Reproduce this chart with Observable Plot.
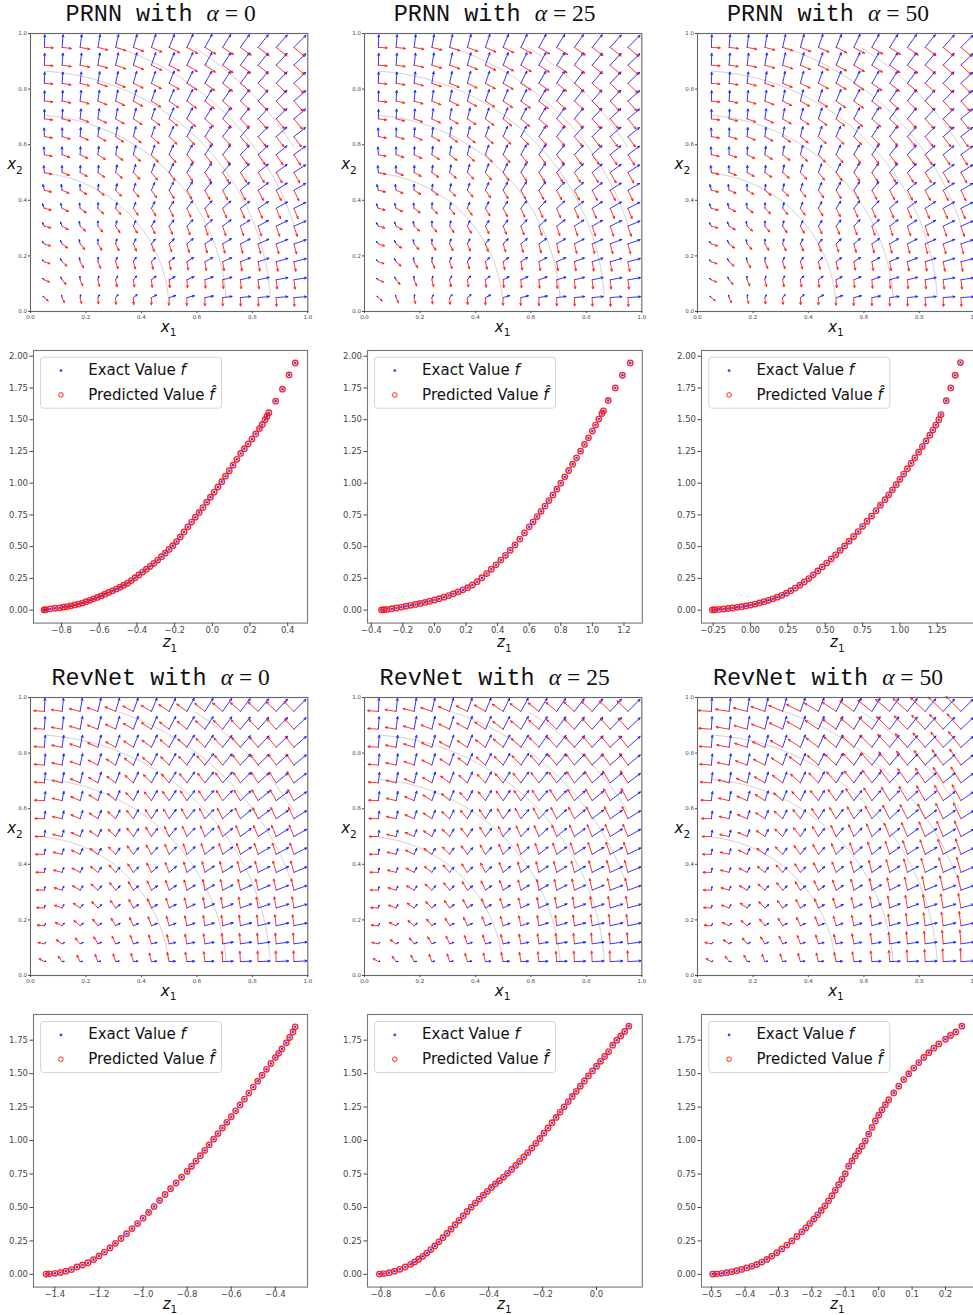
<!DOCTYPE html>
<html>
<head>
<meta charset="utf-8">
<script src="https://cdn.jsdelivr.net/npm/d3@7"></script>
<script src="https://cdn.jsdelivr.net/npm/@observablehq/plot@0.6"></script>
<style>
  body { margin:0; width:973px; height:1315px; overflow:hidden; position:relative; background:#fff; font-family:"DejaVu Sans", sans-serif; }
  .panel { position:absolute; }
  .panel svg { overflow:visible; max-width:none !important; display:block; }
</style>
</head>
<body>
<script>
// ---------------- data ----------------
const MODEL_NAMES = ["PRNN", "RevNet"];
const ALPHAS = ["0", "25", "50"];

// quiver grid (both axes) and contour levels of f = x1^2 + x2^2
const GRID = [0.05,0.114,0.179,0.243,0.307,0.371,0.436,0.5,0.564,0.629,0.693,0.757,0.821,0.886,0.95];
const CONTOUR_LEVELS = [0.25, 0.5, 0.75, 1.0, 1.25];
const UNIT_TICKS = [0, 0.2, 0.4, 0.6, 0.8, 1.0];

// arrow readings (turn in degrees, length in px) at radii R_KNOTS, on the axes and on the diagonal
const R_KNOTS = [0.07, 0.25, 0.5, 0.7, 0.95, 1.34];
const PRNN_B_TURN_AXIS = [90, 45, 8, 0, 0, 0];
const PRNN_B_TURN_DIAG = [90, 55, 25, 20, 10, 0];
const PRNN_B_LEN_AXIS  = [2, 2.5, 7, 9.5, 12.5, 12.5];
const PRNN_B_LEN_DIAG  = [2, 4, 6, 10, 13, 17];
const PRNN_R_TURN_AXIS = [5, 0, -7, -2, 0, 0];
const PRNN_R_TURN_DIAG = [5, -15, -10, -10, 0, 5];
const PRNN_R_LEN_AXIS  = [5, 6, 7.5, 8, 8.5, 8.5];
const PRNN_R_LEN_DIAG  = [5, 7, 8, 10, 12, 14];

const REV_B_TURN_AXIS = [-25, 0, -3, -3, 0, 0];
const REV_B_TURN_DIAG = [-25, -5, 0, 5, 3, 0];
const REV_B_LEN_AXIS  = [1.5, 2, 6, 10.5, 13, 13];
const REV_B_LEN_DIAG  = [1.5, 4, 7, 11, 14, 17];
const REV_R_TURN_AXIS = [15, 12, 10, 3, 0, 0];
const REV_R_TURN_DIAG = [15, 5, -10, -20, -10, 0];
const REV_R_LEN_AXIS  = [6, 7.5, 9, 10, 10.5, 10.5];
const REV_R_LEN_DIAG  = [6, 8, 10, 11, 12, 14];
const REV25_R_LEN_DIAG = [6, 8, 10, 11, 13, 15];
const REV50_R_LEN_AXIS = [6, 7.5, 9, 11, 13, 13];
const REV50_R_LEN_DIAG = [6, 8, 10, 12, 16, 21];

// scatter: z1 and f for each panel
const PRNN0_Z = [-0.893,-0.885,-0.86,-0.835,-0.81,-0.79,-0.77,-0.75,-0.73,-0.71,-0.69,-0.67,-0.65,-0.63,-0.61,-0.59,-0.57,-0.55,-0.53,-0.51,-0.49,-0.47,-0.45,-0.43,-0.41,-0.39,-0.37,-0.35,-0.33,-0.31,-0.29,-0.27,-0.25,-0.23,-0.21,-0.19,-0.17,-0.15,-0.13,-0.11,-0.09,-0.07,-0.05,-0.03,-0.01,0.01,0.03,0.05,0.07,0.09,0.11,0.13,0.15,0.17,0.19,0.21,0.23,0.25,0.265,0.28,0.29,0.30,0.336,0.372,0.407,0.44];
const PRNN0_F = [0.002,0.004,0.010,0.015,0.018,0.023,0.028,0.034,0.041,0.048,0.056,0.066,0.077,0.089,0.100,0.112,0.126,0.139,0.152,0.166,0.181,0.196,0.212,0.233,0.255,0.277,0.300,0.322,0.345,0.369,0.394,0.421,0.449,0.478,0.508,0.540,0.577,0.616,0.656,0.694,0.732,0.770,0.808,0.850,0.890,0.930,0.970,1.012,1.055,1.098,1.142,1.188,1.234,1.272,1.310,1.347,1.388,1.430,1.462,1.500,1.528,1.555,1.646,1.740,1.853,1.947];

const PRNN25_Z = [-0.335,-0.32,-0.30,-0.27,-0.24,-0.21,-0.18,-0.15,-0.12,-0.09,-0.06,-0.03,0.00,0.03,0.06,0.09,0.12,0.15,0.18,0.21,0.24,0.27,0.30,0.33,0.36,0.39,0.42,0.45,0.48,0.51,0.54,0.57,0.60,0.625,0.65,0.675,0.70,0.725,0.75,0.775,0.80,0.825,0.85,0.875,0.90,0.925,0.95,0.975,1.00,1.02,1.04,1.06,1.07,1.10,1.145,1.19,1.24];
const PRNN25_F = [0.002,0.003,0.006,0.011,0.017,0.024,0.031,0.038,0.045,0.053,0.061,0.070,0.080,0.090,0.102,0.115,0.129,0.144,0.160,0.177,0.198,0.224,0.255,0.288,0.322,0.357,0.394,0.432,0.472,0.514,0.560,0.608,0.656,0.696,0.737,0.778,0.820,0.863,0.907,0.953,1.000,1.050,1.100,1.150,1.200,1.252,1.305,1.357,1.410,1.458,1.505,1.548,1.570,1.652,1.750,1.850,1.947];

const PRNN50_Z = [-0.255,-0.24,-0.21,-0.18,-0.15,-0.12,-0.09,-0.06,-0.03,0.00,0.03,0.06,0.09,0.12,0.15,0.18,0.21,0.24,0.27,0.30,0.33,0.36,0.39,0.42,0.45,0.48,0.51,0.54,0.57,0.60,0.63,0.66,0.69,0.72,0.75,0.78,0.81,0.84,0.87,0.90,0.925,0.95,0.975,1.00,1.025,1.05,1.075,1.10,1.125,1.15,1.175,1.20,1.22,1.24,1.26,1.275,1.31,1.34,1.37,1.405];
const PRNN50_F = [0.002,0.003,0.006,0.009,0.013,0.017,0.022,0.027,0.033,0.040,0.048,0.057,0.066,0.077,0.089,0.102,0.117,0.134,0.153,0.174,0.197,0.222,0.249,0.278,0.309,0.340,0.371,0.403,0.436,0.470,0.506,0.543,0.580,0.619,0.660,0.700,0.741,0.783,0.827,0.870,0.908,0.948,0.988,1.030,1.072,1.114,1.157,1.200,1.244,1.288,1.333,1.378,1.418,1.458,1.500,1.540,1.650,1.750,1.850,1.950];

const REV0_Z = [-1.44,-1.425,-1.40,-1.375,-1.35,-1.325,-1.30,-1.275,-1.25,-1.225,-1.20,-1.175,-1.15,-1.125,-1.10,-1.075,-1.05,-1.025,-1.00,-0.975,-0.95,-0.925,-0.90,-0.875,-0.85,-0.825,-0.80,-0.78,-0.76,-0.74,-0.72,-0.70,-0.68,-0.66,-0.64,-0.62,-0.60,-0.58,-0.56,-0.54,-0.52,-0.50,-0.48,-0.46,-0.44,-0.42,-0.40,-0.385,-0.37,-0.35,-0.335,-0.32,-0.31];
const REV0_F = [0.002,0.004,0.008,0.014,0.024,0.036,0.055,0.070,0.087,0.110,0.138,0.167,0.198,0.232,0.268,0.304,0.342,0.380,0.420,0.463,0.507,0.552,0.597,0.640,0.683,0.726,0.770,0.808,0.847,0.887,0.927,0.968,1.010,1.052,1.094,1.136,1.178,1.222,1.266,1.310,1.355,1.400,1.444,1.488,1.532,1.576,1.620,1.652,1.685,1.730,1.770,1.812,1.850];

const REV25_Z = [-0.806,-0.79,-0.77,-0.75,-0.73,-0.71,-0.69,-0.675,-0.66,-0.645,-0.63,-0.615,-0.60,-0.585,-0.57,-0.555,-0.54,-0.525,-0.51,-0.495,-0.48,-0.465,-0.45,-0.435,-0.42,-0.405,-0.39,-0.375,-0.36,-0.345,-0.33,-0.315,-0.30,-0.285,-0.27,-0.255,-0.24,-0.225,-0.21,-0.195,-0.18,-0.165,-0.15,-0.135,-0.12,-0.105,-0.09,-0.075,-0.06,-0.045,-0.03,-0.015,0.00,0.015,0.03,0.045,0.06,0.075,0.09,0.105,0.12];
const REV25_F = [0.002,0.006,0.013,0.024,0.038,0.055,0.075,0.093,0.113,0.135,0.159,0.185,0.213,0.243,0.274,0.306,0.338,0.371,0.404,0.437,0.470,0.502,0.533,0.563,0.592,0.621,0.650,0.676,0.700,0.727,0.755,0.784,0.814,0.845,0.877,0.910,0.944,0.979,1.016,1.055,1.094,1.133,1.173,1.213,1.252,1.291,1.330,1.368,1.406,1.445,1.483,1.520,1.556,1.592,1.628,1.665,1.713,1.750,1.782,1.815,1.855];

const REV50_Z = [-0.497,-0.485,-0.47,-0.455,-0.44,-0.425,-0.41,-0.395,-0.38,-0.365,-0.35,-0.335,-0.32,-0.305,-0.29,-0.275,-0.26,-0.245,-0.23,-0.218,-0.206,-0.194,-0.183,-0.172,-0.161,-0.15,-0.14,-0.13,-0.12,-0.11,-0.10,-0.09,-0.08,-0.07,-0.06,-0.05,-0.04,-0.03,-0.02,-0.01,0.00,0.01,0.02,0.03,0.045,0.06,0.075,0.09,0.105,0.12,0.135,0.15,0.165,0.18,0.20,0.215,0.231,0.249];
const REV50_F = [0.002,0.004,0.008,0.013,0.019,0.027,0.037,0.048,0.060,0.074,0.092,0.112,0.137,0.162,0.190,0.219,0.250,0.283,0.318,0.348,0.380,0.413,0.445,0.478,0.512,0.550,0.588,0.628,0.670,0.710,0.752,0.808,0.848,0.885,0.922,0.958,0.998,1.048,1.098,1.146,1.190,1.230,1.268,1.305,1.356,1.406,1.456,1.500,1.542,1.583,1.621,1.657,1.690,1.722,1.757,1.785,1.812,1.855];

// tick values
const PRNN0_XTICKS = [-0.8,-0.6,-0.4,-0.2,0,0.2,0.4];
const PRNN25_XTICKS = [-0.4,-0.2,0,0.2,0.4,0.6,0.8,1.0,1.2];
const PRNN50_XTICKS = [-0.25,0,0.25,0.5,0.75,1.0,1.25];
const REV0_XTICKS = [-1.4,-1.2,-1.0,-0.8,-0.6,-0.4];
const REV25_XTICKS = [-0.8,-0.6,-0.4,-0.2,0];
const REV50_XTICKS = [-0.5,-0.4,-0.3,-0.2,-0.1,0,0.1,0.2];
const PRNN_YTICKS = [0,0.25,0.5,0.75,1.0,1.25,1.5,1.75,2.0];
const REV_YTICKS = [0,0.25,0.5,0.75,1.0,1.25,1.5,1.75];

// ---------------- layout ----------------
const VEC_LEFT = [30, 364, 697.3], VEC_W = 277.3, VEC_TOP = [33.3, 697.3], VEC_H = 278;
const SC_LEFT = [33, 366.9, 701.2], SC_W = [274, 274.8, 272.4], SC_TOP = [350, 1014.3], SC_H = 272.6;
const Z_LABEL_DY = [24.5, 22];

const BLUE = "#1010ff", RED = "#ff1010", AXIS = "#444";

function knot(arr, r) {
  if (r <= R_KNOTS[0]) return arr[0];
  for (let i = 1; i < R_KNOTS.length; i++) {
    if (r <= R_KNOTS[i]) {
      const t = (r - R_KNOTS[i-1]) / (R_KNOTS[i] - R_KNOTS[i-1]);
      return arr[i-1] + t * (arr[i] - arr[i-1]);
    }
  }
  return arr[arr.length - 1];
}

function glyphs(tbl, side, fw, fh) {
  const blue = [], red = [];
  for (const gx of GRID) for (const gy of GRID) {
    const r = Math.hypot(gx, gy), th = Math.atan2(gy, gx) * 180 / Math.PI;
    const s = Math.sin(2 * th * Math.PI / 180);
    const v = (a, d) => knot(a, r) * (1 - s) + knot(d, r) * s;
    const bA = (th + v(tbl.bTurnA, tbl.bTurnD)) * Math.PI / 180;
    const bL = v(tbl.bLenA, tbl.bLenD);
    const rA = (th + side * 90 + v(tbl.rTurnA, tbl.rTurnD)) * Math.PI / 180;
    const rL = v(tbl.rLenA, tbl.rLenD);
    blue.push({x: gx, y: gy, x2: gx + bL * Math.cos(bA) / fw, y2: gy + bL * Math.sin(bA) / fh});
    red.push({x: gx, y: gy, x2: gx + rL * Math.cos(rA) / fw, y2: gy + rL * Math.sin(rA) / fh});
  }
  return {blue, red};
}

const TABLES = {
  prnn: {bTurnA: PRNN_B_TURN_AXIS, bTurnD: PRNN_B_TURN_DIAG, bLenA: PRNN_B_LEN_AXIS, bLenD: PRNN_B_LEN_DIAG,
         rTurnA: PRNN_R_TURN_AXIS, rTurnD: PRNN_R_TURN_DIAG, rLenA: PRNN_R_LEN_AXIS, rLenD: PRNN_R_LEN_DIAG, side: -1},
  rev0: {bTurnA: REV_B_TURN_AXIS, bTurnD: REV_B_TURN_DIAG, bLenA: REV_B_LEN_AXIS, bLenD: REV_B_LEN_DIAG,
         rTurnA: REV_R_TURN_AXIS, rTurnD: REV_R_TURN_DIAG, rLenA: REV_R_LEN_AXIS, rLenD: REV_R_LEN_DIAG, side: 1},
  rev25: {bTurnA: REV_B_TURN_AXIS, bTurnD: REV_B_TURN_DIAG, bLenA: REV_B_LEN_AXIS, bLenD: REV_B_LEN_DIAG,
         rTurnA: REV_R_TURN_AXIS, rTurnD: REV_R_TURN_DIAG, rLenA: REV_R_LEN_AXIS, rLenD: REV25_R_LEN_DIAG, side: 1},
  rev50: {bTurnA: REV_B_TURN_AXIS, bTurnD: REV_B_TURN_DIAG, bLenA: REV_B_LEN_AXIS, bLenD: REV_B_LEN_DIAG,
         rTurnA: REV_R_TURN_AXIS, rTurnD: REV_R_TURN_DIAG, rLenA: REV50_R_LEN_AXIS, rLenD: REV50_R_LEN_DIAG, side: 1}
};

let clipId = 0;
function place(node, left, top, w, h) {
  const div = document.createElement("div");
  div.className = "panel";
  div.style.left = left + "px";
  div.style.top = top + "px";
  div.style.width = w + "px";
  div.style.height = h + "px";
  node.setAttribute("width", w);
  node.setAttribute("height", h);
  node.style.width = w + "px";
  node.style.height = h + "px";
  div.appendChild(node);
  document.body.appendChild(div);
}

function vectorPanel(tblKey, left, top) {
  const ml = 22, mr = 8, mt = 8, mb = 16;
  const tbl = TABLES[tblKey];
  const {blue, red} = glyphs(tbl, tbl.side, VEC_W, VEC_H);
  const arrowOpts = (color) => ({x1: "x", y1: "y", x2: "x2", y2: "y2", stroke: color, strokeWidth: 1,
    strokeOpacity: 0.85, headLength: 3.4, headAngle: 50, inset: 0});
  const W = VEC_W + ml + mr, H = VEC_H + mt + mb;
  const plot = Plot.plot({
    width: W, height: H,
    marginLeft: ml, marginRight: mr, marginTop: mt, marginBottom: mb,
    x: {domain: [0, 1]}, y: {domain: [0, 1]},
    style: {fontFamily: "DejaVu Sans", fontSize: "5.5px", color: AXIS, background: "transparent"},
    marks: [
      Plot.contour({value: (x, y) => x * x + y * y, x1: -0.3, y1: -0.3, x2: 1.3, y2: 1.3,
        thresholds: CONTOUR_LEVELS, fill: "none", stroke: "#c9c9c9", strokeWidth: 1, pixelSize: 1}),
      Plot.arrow(blue, arrowOpts(BLUE)),
      Plot.arrow(red, arrowOpts(RED)),
      Plot.frame({stroke: "#666", strokeWidth: 1.1}),
      Plot.axisX(UNIT_TICKS, {tickFormat: d3.format(".1f"), tickSize: 2, tickPadding: 1.5, fontSize: 5.5, label: null, stroke: AXIS}),
      Plot.axisY(UNIT_TICKS, {tickFormat: d3.format(".1f"), tickSize: 2, tickPadding: 1.5, fontSize: 5.5, label: null, stroke: AXIS})
    ]
  });
  // clip the contour lines to the quiver grid extent, like the reference
  const sx = plot.scale("x"), sy = plot.scale("y");
  const id = "cclip" + (clipId++);
  const s = d3.select(plot);
  const g0 = GRID[0], g1 = GRID[GRID.length - 1];
  s.insert("defs", ":first-child").append("clipPath").attr("id", id).append("rect")
    .attr("x", sx.apply(g0)).attr("y", sy.apply(g1))
    .attr("width", sx.apply(g1) - sx.apply(g0)).attr("height", sy.apply(g0) - sy.apply(g1));
  s.selectAll('g[aria-label="contour"]').attr("clip-path", `url(#${id})`);
  place(plot, left - ml, top - mt, W, H);
}

function scatterPanel(zArr, fArr, xDomain, yDomain, xTicks, xFmt, yTicks, left, top, w) {
  const ml = 40, mr = 8, mt = 8, mb = 24;
  const rows = d3.zip(zArr, fArr).map(([z, f]) => ({z, f}));
  const W = w + ml + mr, H = SC_H + mt + mb;
  const plot = Plot.plot({
    width: W, height: H,
    marginLeft: ml, marginRight: mr, marginTop: mt, marginBottom: mb,
    x: {domain: xDomain}, y: {domain: yDomain},
    style: {fontFamily: "DejaVu Sans", fontSize: "8.5px", color: AXIS, background: "transparent"},
    marks: [
      Plot.dot(rows, {x: "z", y: "f", r: 1.3, fill: BLUE, stroke: "none", fillOpacity: 0.8}),
      Plot.dot(rows, {x: "z", y: "f", r: 2.7, fill: "none", stroke: RED, strokeWidth: 1.4, strokeOpacity: 0.9}),
      Plot.frame({stroke: "#777", strokeWidth: 1.1}),
      Plot.axisX(xTicks, {tickFormat: d3.format(xFmt), tickSize: 3.5, tickPadding: 0, fontSize: 8.5, label: null, stroke: AXIS}),
      Plot.axisY(yTicks, {tickFormat: d3.format(".2f"), tickSize: 3.5, tickPadding: 2, fontSize: 8.5, label: null, stroke: AXIS})
    ]
  });
  place(plot, left - ml, top - mt, W, H);
}

// vector field panels
["prnn", "prnn", "prnn"].forEach((k, i) => vectorPanel(k, VEC_LEFT[i], VEC_TOP[0]));
["rev0", "rev25", "rev50"].forEach((k, i) => vectorPanel(k, VEC_LEFT[i], VEC_TOP[1]));

// scatter panels
scatterPanel(PRNN0_Z, PRNN0_F, [-0.949, 0.505], [-0.102, 2.045], PRNN0_XTICKS, ".1f", PRNN_YTICKS, SC_LEFT[0], SC_TOP[0], SC_W[0]);
scatterPanel(PRNN25_Z, PRNN25_F, [-0.424, 1.316], [-0.102, 2.045], PRNN25_XTICKS, ".1f", PRNN_YTICKS, SC_LEFT[1], SC_TOP[0], SC_W[1]);
scatterPanel(PRNN50_Z, PRNN50_F, [-0.328, 1.495], [-0.102, 2.045], PRNN50_XTICKS, ".2f", PRNN_YTICKS, SC_LEFT[2], SC_TOP[0], SC_W[2]);
scatterPanel(REV0_Z, REV0_F, [-1.497, -0.254], [-0.095, 1.942], REV0_XTICKS, ".1f", REV_YTICKS, SC_LEFT[0], SC_TOP[1], SC_W[0]);
scatterPanel(REV25_Z, REV25_F, [-0.85, 0.17], [-0.095, 1.942], REV25_XTICKS, ".1f", REV_YTICKS, SC_LEFT[1], SC_TOP[1], SC_W[1]);
scatterPanel(REV50_Z, REV50_F, [-0.5305, 0.285], [-0.095, 1.942], REV50_XTICKS, ".1f", REV_YTICKS, SC_LEFT[2], SC_TOP[1], SC_W[2]);

// ---------------- text overlay: titles, axis labels, legends ----------------
const svg = d3.select("body").append("svg")
  .attr("width", 973).attr("height", 1315)
  .style("position", "absolute").style("left", "0px").style("top", "0px").style("pointer-events", "none");

function subLabel(x, y, letter, sub, size) {
  const t = svg.append("text").attr("x", x).attr("y", y).attr("text-anchor", "middle")
    .attr("font-family", "DejaVu Sans").attr("font-size", size).attr("fill", "#111");
  t.append("tspan").attr("font-style", "italic").text(letter);
  t.append("tspan").attr("dy", size * 0.3).attr("font-size", size * 0.7).text(sub);
}

MODEL_NAMES.forEach((name, row) => {
  ALPHAS.forEach((a, col) => {
    const left = VEC_LEFT[col], top = VEC_TOP[row];
    const cx = left + VEC_W / 2 - 8;
    const t = svg.append("text").attr("x", cx).attr("y", top - 12.6).attr("text-anchor", "middle")
      .attr("font-size", 23.5).attr("fill", "#111");
    t.append("tspan").attr("font-family", "Liberation Mono").text(name + " with ");
    t.append("tspan").attr("font-family", "Liberation Serif").attr("font-style", "italic").text("α");
    t.append("tspan").attr("font-family", "Liberation Serif").text(" = " + a);
    subLabel(left + VEC_W / 2, top + VEC_H + 20.3, "x", "1", 15);
    subLabel(left - 15, top + 136, "x", "2", 15);

    // scatter labels and legend
    const sl = SC_LEFT[col], st = SC_TOP[row], sw = SC_W[col];
    subLabel(sl + sw / 2, st + SC_H + Z_LABEL_DY[row], "z", "1", 15);
    const bx = sl + 7.6, by = st + 7.2;
    svg.append("rect").attr("x", bx).attr("y", by).attr("width", 181).attr("height", 51)
      .attr("rx", 3).attr("fill", "#fff").attr("fill-opacity", 0.85).attr("stroke", "#d6d6d6").attr("stroke-width", 1);
    svg.append("circle").attr("cx", bx + 20.3).attr("cy", by + 13.4).attr("r", 1.4).attr("fill", BLUE).attr("fill-opacity", 0.8);
    svg.append("circle").attr("cx", bx + 20.3).attr("cy", by + 37.7).attr("r", 2.3).attr("fill", "none").attr("stroke", RED).attr("stroke-width", 0.9);
    const t1 = svg.append("text").attr("x", bx + 47.6).attr("y", by + 17.7).attr("font-family", "DejaVu Sans").attr("font-size", 15).attr("fill", "#111");
    t1.append("tspan").text("Exact Value ");
    t1.append("tspan").attr("font-style", "italic").text("f");
    const t2 = svg.append("text").attr("x", bx + 47.6).attr("y", by + 42.3).attr("font-family", "DejaVu Sans").attr("font-size", 15).attr("fill", "#111");
    t2.append("tspan").text("Predicted Value ");
    t2.append("tspan").attr("font-style", "italic").text("f\u0302");
  });
});
</script>
</body>
</html>
